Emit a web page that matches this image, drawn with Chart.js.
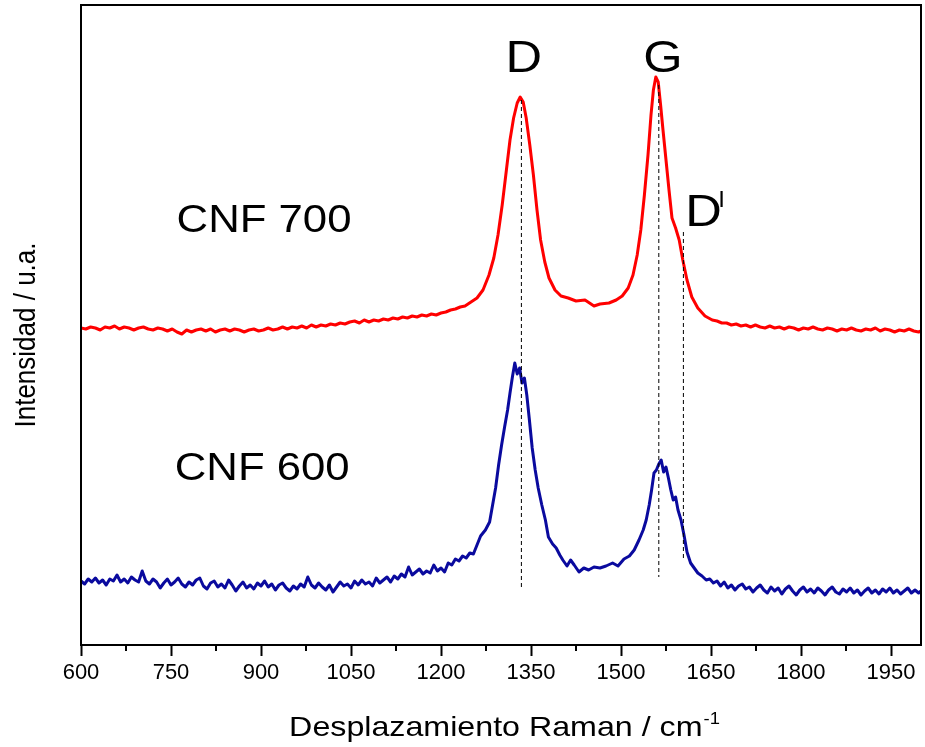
<!DOCTYPE html>
<html>
<head>
<meta charset="utf-8">
<script src="https://cdn.jsdelivr.net/npm/chart.js@4/dist/chart.umd.min.js"></script>
<style>
  html, body { margin: 0; padding: 0; background: #fff; }
  #wrap { width: 925px; height: 747px; position: relative; }
</style>
</head>
<body>
<div id="wrap"><canvas id="raman"></canvas></div>
<script>
const FONT = "'Liberation Sans', Arial, Helvetica, sans-serif";
const SX = 1.15; // labels are drawn slightly wide

// CNF 700 spectrum (offset upwards)
const shift700 = [600, 608, 616, 624, 632, 640, 648, 656, 664, 672, 680, 688, 696, 704, 712, 720, 728, 736, 744, 752,
  760, 768, 776, 784, 792, 800, 808, 816, 824, 832, 840, 848, 856, 864, 872, 880, 888, 896, 904, 912,
  920, 928, 936, 944, 952, 960, 968, 976, 984, 992, 1000, 1008, 1016, 1024, 1032, 1040, 1048, 1056, 1064, 1072,
  1080, 1088, 1096, 1104, 1112, 1120, 1128, 1136, 1144, 1152, 1160, 1168, 1176, 1184, 1192, 1200, 1208, 1216, 1224, 1232,
  1240, 1250, 1260, 1270, 1280, 1288, 1295, 1302, 1309, 1315, 1321, 1327, 1332, 1337, 1342, 1348, 1354,
  1360, 1366, 1373, 1380, 1390, 1400, 1412, 1425, 1440, 1455, 1465, 1480, 1492, 1502, 1512, 1520, 1527, 1533, 1539, 1545,
  1550, 1554, 1558, 1562, 1566, 1570, 1575, 1580, 1585, 1591, 1597, 1603, 1610, 1618, 1628, 1640,
  1652, 1660, 1668, 1676, 1684, 1692, 1700, 1708, 1716, 1724, 1732, 1740, 1748, 1756, 1764, 1772, 1780, 1788, 1796, 1804,
  1812, 1820, 1828, 1836, 1844, 1852, 1860, 1868, 1876, 1884, 1892, 1900, 1908, 1916, 1924, 1932, 1940, 1948, 1956, 1964,
  1972, 1980, 1988, 1996, 2000];
const int700 = [317, 316, 318, 317, 315, 318, 317, 319, 316, 318, 317, 315, 317, 318, 316, 315, 317, 316, 314, 316,
  313, 311, 315, 313, 315, 316, 314, 316, 313, 315, 316, 314, 316, 315, 313, 315, 316, 314, 315, 317,
  315, 316, 318, 316, 318, 317, 319, 317, 320, 318, 320, 319, 321, 320, 322, 321, 323, 324, 322, 325,
  323, 325, 324, 326, 325, 327, 326, 328, 327, 329, 328, 330, 329, 331, 330, 332, 333, 335, 336, 338,
  339, 343, 347, 355, 370, 387, 410, 440, 475, 505, 527, 542, 548, 543, 527, 500, 470,
  435, 405, 383, 367, 355, 349, 347, 344, 345, 339, 341, 342, 345, 349, 357, 370, 390, 415, 450, 490,
  530, 555, 568, 563, 540, 515, 485, 455, 427, 417, 405, 385, 365, 348, 337, 329,
  325, 324, 322, 322, 320, 321, 319, 320, 318, 320, 318, 317, 319, 317, 318, 316, 318, 317, 315, 317,
  316, 318, 316, 315, 317, 316, 314, 316, 315, 317, 315, 314, 316, 315, 317, 314, 316, 315, 313, 315,
  314, 316, 314, 313, 314];

// CNF 600 spectrum
const shift600 = [600, 606, 612, 618, 624, 630, 636, 642, 648, 654, 660, 666, 672, 678, 684, 690, 696, 702, 708, 714,
  720, 726, 732, 738, 744, 750, 756, 762, 768, 774, 780, 786, 792, 798, 804, 810, 816, 822, 828, 834,
  840, 846, 852, 858, 864, 870, 876, 882, 888, 894, 900, 906, 912, 918, 924, 930, 936, 942, 948, 954,
  960, 966, 972, 978, 984, 990, 996, 1002, 1008, 1014, 1020, 1026, 1032, 1038, 1044, 1050, 1056, 1062, 1068, 1074,
  1080, 1086, 1092, 1098, 1104, 1110, 1116, 1122, 1128, 1134, 1140, 1146, 1152, 1158, 1164, 1170, 1176, 1182, 1188, 1194,
  1200, 1206, 1212, 1218, 1224, 1230, 1236, 1242, 1248, 1254,
  1260, 1266, 1274, 1281, 1286, 1291, 1296, 1301, 1306, 1311, 1315, 1319, 1323, 1327, 1331, 1335, 1339, 1343, 1347, 1352,
  1357, 1362, 1368, 1374, 1379, 1386, 1392, 1398, 1403, 1410, 1416, 1422, 1430, 1438, 1446, 1455, 1465, 1475, 1486, 1495,
  1505, 1514, 1522, 1530, 1537, 1542, 1547, 1551, 1555, 1559, 1563, 1567, 1571, 1575, 1579, 1583, 1587, 1591, 1595, 1600,
  1605, 1610, 1616, 1622, 1628, 1635, 1642,
  1648, 1654, 1660, 1666, 1672, 1678, 1684, 1690, 1696, 1702, 1708, 1714, 1720, 1726, 1732, 1738, 1744, 1750, 1756, 1762,
  1768, 1774, 1780, 1786, 1792, 1798, 1804, 1810, 1816, 1822, 1828, 1834, 1840, 1846, 1852, 1858, 1864, 1870, 1876, 1882,
  1888, 1894, 1900, 1906, 1912, 1918, 1924, 1930, 1936, 1942, 1948, 1954, 1960, 1966, 1972, 1978, 1984, 1990, 1996, 2000];
const int600 = [64, 61, 66, 63, 67, 62, 65, 60, 66, 64, 70, 63, 66, 62, 68, 65, 63, 74, 64, 61,
  66, 63, 57, 62, 66, 60, 63, 67, 61, 58, 63, 60, 65, 67, 59, 56, 62, 64, 58, 61,
  57, 65, 60, 54, 59, 63, 57, 60, 56, 62, 59, 64, 58, 61, 55, 60, 62, 57, 54, 59,
  56, 61, 58, 68, 60, 57, 62, 58, 55, 60, 53, 58, 63, 59, 61, 57, 64, 60, 65, 61,
  63, 59, 67, 62, 65, 68, 63, 69, 66, 71, 68, 78, 70, 73, 76, 71, 74, 72, 80, 74,
  77, 73, 82, 80, 86, 84, 89, 87, 92, 91,
  100, 109, 115, 123, 140, 157, 180, 200, 218, 235, 252, 268, 282, 271, 277, 262, 267, 250, 227, 197,
  175, 157, 140, 125, 108, 101, 97, 90, 85, 79, 85, 80, 73, 77, 75, 78, 77, 79, 82, 79,
  86, 89, 95, 105, 115, 125, 140, 155, 172, 175, 181, 185, 173, 178, 167, 155, 145, 148, 135, 125,
  110, 93, 82, 77, 72, 69, 65,
  66, 62, 64, 59, 63, 57, 60, 55, 59, 61, 56, 58, 53, 57, 60, 55, 52, 58, 54, 57,
  51, 56, 59, 54, 50, 55, 58, 53, 56, 52, 57, 54, 50, 55, 58, 53, 51, 56, 53, 57,
  52, 55, 50, 54, 57, 52, 55, 51, 56, 53, 57, 52, 55, 51, 54, 57, 52, 55, 52, 54];

// band positions (cm-1) and the span of each dashed guide
const bandNames = ['D', 'G', "D'"];
const bandShift = [1334, 1563, 1604];
const bandTop = [545, 560, 413];
const bandBottom = [58, 68, 85];

const xTicks = [600, 750, 900, 1050, 1200, 1350, 1500, 1650, 1800, 1950];

const toPoints = (xs, ys) => xs.map((v, i) => ({ x: v, y: ys[i] }));

const guides = bandShift.map((s, i) => ({
  label: bandNames[i],
  data: [{ x: s, y: bandTop[i] }, { x: s, y: bandBottom[i] }],
  borderColor: '#000',
  borderWidth: 1,
  borderDash: [4, 3],
  pointRadius: 0
}));

function wideText(ctx, str, px, py, size, align) {
  ctx.save();
  ctx.font = size + 'px ' + FONT;
  ctx.fillStyle = '#000';
  ctx.textAlign = align || 'left';
  ctx.textBaseline = 'alphabetic';
  ctx.translate(px, py);
  ctx.scale(SX, 1);
  ctx.fillText(str, 0, 0);
  ctx.restore();
}

const decorations = {
  id: 'decorations',
  afterDraw(chart) {
    const { ctx, chartArea: a, scales: { x, y } } = chart;
    ctx.save();
    ctx.strokeStyle = '#000';
    ctx.lineWidth = 2;
    ctx.strokeRect(a.left, a.top, a.right - a.left, a.bottom - a.top);
    // minor ticks between the labelled ones
    for (let v = 675; v < 2000; v += 150) {
      const px = x.getPixelForValue(v);
      ctx.beginPath();
      ctx.moveTo(px, a.bottom);
      ctx.lineTo(px, a.bottom + 6);
      ctx.stroke();
    }
    ctx.restore();

    // band labels
    wideText(ctx, 'D', x.getPixelForValue(1338), y.getPixelForValue(573), 44, 'center');
    wideText(ctx, 'G', x.getPixelForValue(1570), y.getPixelForValue(573), 44, 'center');
    const dx = x.getPixelForValue(1607), dy = y.getPixelForValue(419);
    ctx.font = '44px ' + FONT;
    const dw = ctx.measureText('D').width * SX;
    wideText(ctx, 'D', dx, dy, 44, 'left');
    wideText(ctx, 'l', dx + dw - 3, dy - 19, 22, 'left');

    // sample names
    wideText(ctx, 'CNF 700', x.getPixelForValue(905), y.getPixelForValue(413), 38, 'center');
    wideText(ctx, 'CNF 600', x.getPixelForValue(902), y.getPixelForValue(165), 38, 'center');

    // x axis title with superscript
    ctx.font = '28px ' + FONT;
    const mainW = ctx.measureText('Desplazamiento Raman / cm').width * SX;
    ctx.font = '16px ' + FONT;
    const supW = ctx.measureText('-1').width * SX;
    const start = (a.left + a.right) / 2 + 3 - (mainW + supW) / 2;
    wideText(ctx, 'Desplazamiento Raman / cm', start, 736, 28, 'left');
    wideText(ctx, '-1', start + mainW + 1, 724, 16, 'left');

    // y axis title
    ctx.save();
    ctx.font = '26px ' + FONT;
    ctx.fillStyle = '#000';
    ctx.textAlign = 'center';
    ctx.textBaseline = 'alphabetic';
    ctx.translate(35, (a.top + a.bottom) / 2 + 10);
    ctx.rotate(-Math.PI / 2);
    ctx.scale(1, SX);
    ctx.fillText('Intensidad / u.a.', 0, 0);
    ctx.restore();
  }
};

new Chart(document.getElementById('raman'), {
  type: 'line',
  data: {
    datasets: [
      ...guides,
      {
        label: 'CNF 700',
        data: toPoints(shift700, int700),
        borderColor: '#ff0000',
        borderWidth: 3,
        pointRadius: 0,
        borderJoinStyle: 'round'
      },
      {
        label: 'CNF 600',
        data: toPoints(shift600, int600),
        borderColor: '#0a0a9e',
        borderWidth: 3,
        pointRadius: 0,
        borderJoinStyle: 'round'
      }
    ]
  },
  options: {
    responsive: true,
    maintainAspectRatio: false,
    animation: false,
    layout: { padding: { top: 5, right: 4, left: 0, bottom: 0 } },
    plugins: {
      legend: { display: false },
      tooltip: { enabled: false }
    },
    scales: {
      x: {
        type: 'linear',
        min: 600,
        max: 2000,
        afterBuildTicks: s => { s.ticks = xTicks.map(v => ({ value: v })); },
        afterFit: s => { s.height = 102; },
        ticks: {
          color: '#000',
          padding: 4,
          maxRotation: 0,
          autoSkip: false,
          font: { family: FONT, size: 22 },
          callback: v => String(v)
        },
        grid: {
          drawOnChartArea: false,
          tickLength: 11,
          tickColor: '#000',
          tickWidth: 2
        },
        border: { display: false }
      },
      y: {
        min: 0,
        max: 640,
        afterFit: s => { s.width = 81; },
        ticks: { display: false },
        grid: { display: false },
        border: { display: false }
      }
    }
  },
  plugins: [decorations]
});
</script>
</body>
</html>
